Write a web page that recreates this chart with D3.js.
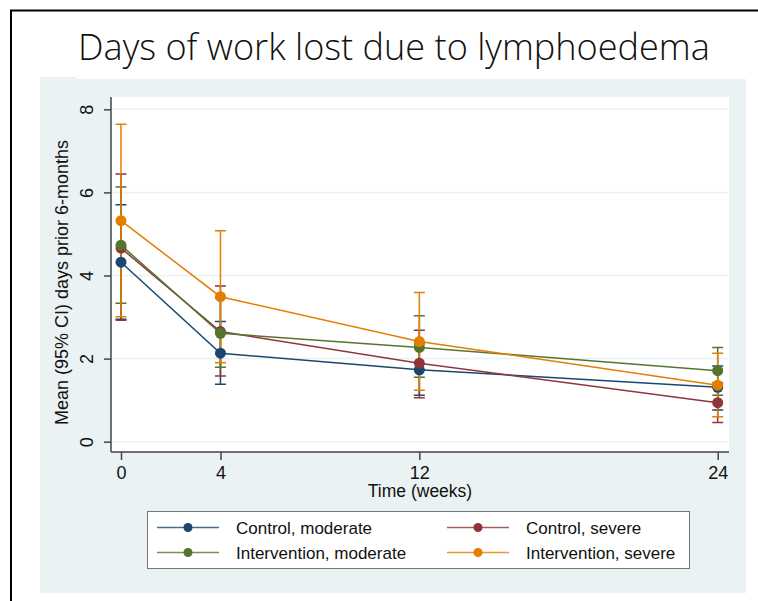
<!DOCTYPE html>
<html>
<head>
<meta charset="utf-8">
<script src="https://cdn.jsdelivr.net/npm/d3@7"></script>
<style>
  html, body { margin: 0; padding: 0; background: #fff; }
  svg { display: block; }
  text { font-family: "Liberation Sans", Arial, sans-serif; fill: #111; }
</style>
</head>
<body>
<div id="chart"></div>
<script>
const weeks = [0, 4, 12, 24];
const seriesNames = ['Control, moderate', 'Control, severe', 'Intervention, moderate', 'Intervention, severe'];
const seriesColors = ['#1a476f', '#90353b', '#55752f', '#e37e00'];

// mean and 95% CI, one row per series, one value per week
const means = [
  [4.32, 2.13, 1.73, 1.31],
  [4.66, 2.65, 1.89, 0.94],
  [4.73, 2.61, 2.27, 1.71],
  [5.32, 3.49, 2.41, 1.36],
];
const lower = [
  [2.95, 1.38, 1.12, 0.76],
  [2.92, 1.58, 1.06, 0.46],
  [3.33, 1.79, 1.55, 1.12],
  [3.01, 1.90, 1.24, 0.60],
];
const upper = [
  [5.70, 2.89, 2.35, 1.82],
  [6.44, 3.75, 2.68, 1.42],
  [6.13, 3.45, 3.03, 2.27],
  [7.64, 5.08, 3.59, 2.13],
];
const yTicks = [0, 2, 4, 6, 8];

const width = 758;
const height = 601;

const svg = d3.select('#chart').append('svg')
  .attr('width', width)
  .attr('height', height);

// slide border (top and left)
svg.append('path')
  .attr('d', 'M11,601 V10.5 H758')
  .attr('fill', 'none')
  .attr('stroke', '#000')
  .attr('stroke-width', 2);

// title
const title = svg.append('text')
  .attr('x', 394)
  .attr('y', 60)
  .attr('text-anchor', 'middle')
  .style('font-family', '"Open Sans", "Noto Sans", sans-serif')
  .style('font-weight', 300)
  .style('font-size', '36px')
  .text('Days of work lost due to lymphoedema');
const tw = title.node().getComputedTextLength();
title.style('font-size', (36 * 632 / tw) + 'px');

// graph region
svg.append('rect').attr('x', 40).attr('y', 77).attr('width', 37).attr('height', 4).attr('fill', '#eaf2f3');
svg.append('rect')
  .attr('x', 40).attr('y', 79)
  .attr('width', 706).attr('height', 514)
  .attr('fill', '#eaf2f3');

const plot = { left: 111, right: 729, top: 97, bottom: 452 };

svg.append('rect')
  .attr('x', plot.left).attr('y', plot.top)
  .attr('width', plot.right - plot.left).attr('height', plot.bottom - plot.top)
  .attr('fill', '#fff');

const xScale = d3.scaleLinear().domain([0, 24]).range([121, 717.7]);
const yScale = d3.scaleLinear().domain([0, 8]).range([441.7, 109.3]);

// gridlines
svg.append('g')
  .selectAll('line')
  .data(yTicks)
  .join('line')
  .attr('x1', plot.left + 1).attr('x2', plot.right)
  .attr('y1', (d) => yScale(d)).attr('y2', (d) => yScale(d))
  .attr('stroke', '#eaf2f3')
  .attr('stroke-width', 1.5);

// axes
const yAxis = svg.append('g')
  .attr('transform', `translate(${plot.left}, 0)`)
  .call(d3.axisLeft(yScale).tickValues(yTicks).tickSize(7).tickPadding(0).tickSizeOuter(0));
yAxis.select('.domain').attr('d', `M0,${plot.top}V${plot.bottom}`);
yAxis.selectAll('.tick text')
  .attr('x', 0).attr('y', 0)
  .attr('dy', 0)
  .attr('transform', 'translate(-18,0) rotate(-90)')
  .attr('text-anchor', 'middle')
  .attr('dominant-baseline', 'auto');

const xAxis = svg.append('g')
  .attr('transform', `translate(0, ${plot.bottom})`)
  .call(d3.axisBottom(xScale).tickValues(weeks).tickSize(8).tickPadding(6).tickSizeOuter(0));
xAxis.select('.domain').attr('d', `M${plot.left},0H${plot.right}`);

svg.selectAll('.domain, .tick line').attr('stroke', '#444').attr('stroke-width', 1.5);
svg.selectAll('.tick text')
  .style('font-family', '"Liberation Sans", Arial, sans-serif')
  .style('font-size', '18px')
  .attr('fill', '#111');

// axis titles
svg.append('text')
  .attr('transform', `translate(68, ${(plot.top + plot.bottom) / 2 + 8}) rotate(-90)`)
  .attr('text-anchor', 'middle')
  .style('font-size', '18px')
  .text('Mean (95% CI) days prior 6-months');

svg.append('text')
  .attr('x', (plot.left + plot.right) / 2)
  .attr('y', 497)
  .attr('text-anchor', 'middle')
  .style('font-size', '17.5px')
  .text('Time (weeks)');

// confidence interval caps
const capW = 5.5;
const ci = svg.append('g');
means.forEach((row, s) => {
  const g = ci.append('g').attr('stroke', seriesColors[s]).attr('stroke-width', 1.5).attr('fill', 'none');
  weeks.forEach((w, i) => {
    const x = xScale(w);
    const y0 = yScale(lower[s][i]);
    const y1 = yScale(upper[s][i]);
    g.append('path')
      .attr('d', `M${x - capW},${y1}H${x + capW}M${x},${y1}V${y0}M${x - capW},${y0}H${x + capW}`);
  });
});

// connected lines and markers
const line = d3.line().x((d) => xScale(d[0])).y((d) => yScale(d[1]));
means.forEach((row, s) => {
  const pts = weeks.map((w, i) => [w, row[i]]);
  svg.append('path')
    .attr('d', line(pts))
    .attr('fill', 'none')
    .attr('stroke', seriesColors[s])
    .attr('stroke-width', 1.5);
  svg.append('g')
    .selectAll('circle')
    .data(pts)
    .join('circle')
    .attr('cx', (d) => xScale(d[0]))
    .attr('cy', (d) => yScale(d[1]))
    .attr('r', 5.5)
    .attr('fill', seriesColors[s]);
});

// legend
const legend = svg.append('g');
legend.append('rect')
  .attr('x', 147.5).attr('y', 511.5)
  .attr('width', 542).attr('height', 57)
  .attr('fill', '#fff')
  .attr('stroke', '#777')
  .attr('stroke-width', 1);

const legendPos = [
  { x: 157, y: 527.5 },
  { x: 447, y: 527.5 },
  { x: 157, y: 552.5 },
  { x: 447, y: 552.5 },
];
legendPos.forEach((p, s) => {
  const g = legend.append('g').attr('transform', `translate(${p.x}, ${p.y})`);
  g.append('line')
    .attr('x1', 0).attr('x2', 62)
    .attr('stroke', seriesColors[s])
    .attr('stroke-opacity', 0.8)
    .attr('stroke-width', 1.5);
  g.append('circle').attr('cx', 31).attr('r', 4.5).attr('fill', seriesColors[s]);
  g.append('text')
    .attr('x', 79)
    .attr('y', 6)
    .style('font-size', '17px')
    .text(seriesNames[s]);
});
</script>
</body>
</html>
